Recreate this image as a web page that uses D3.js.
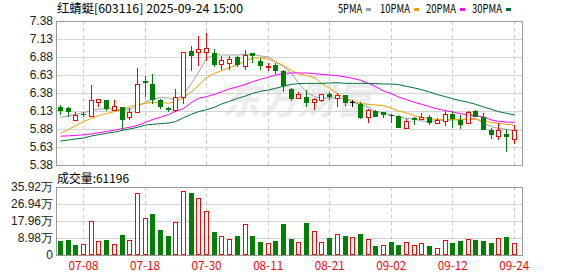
<!DOCTYPE html>
<html><head><meta charset="utf-8">
<script src="https://cdn.jsdelivr.net/npm/d3@7"></script>
<style>html,body{margin:0;padding:0;background:#fff;} svg{display:block}</style>
</head><body><svg id="c" width="578" height="276"></svg>
<script>
const dates = ["07-03","07-04","07-07","07-08","07-09","07-10","07-11","07-14","07-15","07-16",
"07-17","07-18","07-21","07-22","07-23","07-24","07-25","07-28","07-29","07-30",
"07-31","08-01","08-04","08-05","08-06","08-07","08-08","08-11","08-12","08-13",
"08-14","08-15","08-18","08-19","08-20","08-21","08-22","08-25","08-26","08-27",
"08-28","08-29","09-01","09-02","09-03","09-04","09-05","09-08","09-09","09-10",
"09-11","09-12","09-15","09-16","09-17","09-18","09-19","09-22","09-23","09-24"];
const opens = [6.18,6.17,6.00,6.09,6.06,6.26,6.28,6.15,6.18,6.05,
6.11,6.55,6.50,6.28,6.17,6.14,6.33,6.96,6.95,6.95,
6.94,6.78,6.80,6.88,6.76,6.93,6.82,6.75,6.77,6.69,
6.44,6.31,6.33,6.25,6.28,6.37,6.31,6.35,6.25,6.23,
6.04,6.13,6.11,6.07,6.06,5.89,6.03,6.02,6.04,5.97,
5.99,6.09,6.00,5.97,6.13,6.05,5.86,5.78,5.81,5.74];
const closes = [6.13,6.11,6.07,6.08,6.28,6.29,6.16,6.20,6.00,6.11,
6.51,6.52,6.28,6.18,6.14,6.32,6.95,6.90,6.99,7.00,
6.77,6.84,6.85,6.77,6.91,6.89,6.75,6.76,6.69,6.48,
6.29,6.37,6.24,6.29,6.36,6.33,6.35,6.24,6.25,6.03,
6.15,6.05,6.08,6.06,5.90,5.99,6.00,6.04,5.97,6.01,
6.09,6.02,5.93,6.12,6.04,5.86,5.79,5.87,5.77,5.87];
const highs = [6.22,6.19,6.12,6.12,6.49,6.30,6.28,6.28,6.19,6.17,
6.73,6.61,6.64,6.29,6.18,6.44,6.95,7.03,7.17,7.22,
6.99,6.89,6.89,6.90,6.98,6.94,6.86,6.80,6.79,6.70,
6.45,6.39,6.42,6.31,6.36,6.39,6.38,6.35,6.28,6.25,
6.16,6.14,6.12,6.09,6.07,6.02,6.04,6.10,6.07,6.03,
6.13,6.13,6.07,6.13,6.14,6.10,5.90,5.97,5.88,5.93];
const lows = [6.07,6.05,5.99,6.05,6.05,6.19,6.13,6.13,5.86,6.00,
6.11,6.32,6.23,6.16,6.11,6.11,6.23,6.68,6.75,6.82,
6.74,6.70,6.70,6.74,6.70,6.80,6.70,6.69,6.65,6.40,
6.27,6.29,6.18,6.15,6.25,6.28,6.19,6.20,6.18,6.02,
5.97,6.05,6.03,5.96,5.89,5.89,5.93,6.00,5.94,5.95,
5.92,5.89,5.88,5.95,6.04,5.86,5.74,5.73,5.56,5.67];
const prevClose = 6.16;
const volumes = [7.36,7.71,5.26,5.61,17.87,7.36,7.88,5.78,10.51,7.71,
32.4,19.27,21.55,13.14,9.99,17.17,33.64,32.59,29.79,22.95,
12.09,9.99,8.41,9.99,16.12,9.99,6.83,6.31,7.36,16.3,
8.41,6.66,16.82,12.61,6.66,8.94,11.04,9.99,9.46,11.04,
8.41,4.9,5.26,6.83,5.26,6.66,5.26,6.13,4.73,3.68,
7.88,6.31,7.36,8.41,7.88,7.36,6.31,8.94,9.46,6.12];
const ma5 = [6.042,6.061,6.084,6.107,6.135,6.158,6.158,6.158,6.144,6.148,
6.195,6.250,6.297,6.315,6.311,6.283,6.361,6.514,6.667,6.861,
6.908,6.908,6.908,6.908,6.917,6.917,6.894,6.880,6.815,6.746,
6.653,6.519,6.389,6.329,6.306,6.315,6.306,6.297,6.250,6.223,
6.181,6.121,6.107,6.074,6.051,6.028,6.019,5.991,5.982,6.000,
6.000,6.005,6.010,6.019,6.028,5.959,5.912,5.889,5.875,5.852];
const ma10 = [5.820,5.875,5.926,5.982,6.028,6.065,6.093,6.121,6.148,6.186,
6.213,6.237,6.250,6.246,6.237,6.260,6.315,6.398,6.482,6.593,
6.653,6.690,6.732,6.769,6.824,6.861,6.871,6.848,6.815,6.760,
6.690,6.648,6.621,6.593,6.514,6.445,6.371,6.306,6.269,6.237,
6.223,6.213,6.204,6.167,6.130,6.102,6.065,6.042,6.019,6.014,
6.014,6.014,6.014,6.014,6.014,5.991,5.972,5.959,5.945,5.935];
const ma20 = [5.780,5.785,5.790,5.800,5.812,5.828,5.845,5.865,5.885,5.905,
5.930,5.975,6.010,6.045,6.080,6.125,6.165,6.250,6.306,6.329,
6.361,6.398,6.436,6.468,6.500,6.537,6.570,6.602,6.630,6.653,
6.658,6.658,6.658,6.648,6.639,6.630,6.621,6.602,6.584,6.556,
6.514,6.468,6.408,6.371,6.324,6.287,6.250,6.223,6.190,6.158,
6.135,6.116,6.093,6.074,6.065,6.047,6.005,5.986,5.977,5.972];
const ma30 = [5.713,5.727,5.741,5.755,5.783,5.801,5.820,5.838,5.861,5.880,
5.903,5.935,5.945,5.954,5.963,5.982,6.037,6.084,6.121,6.148,
6.181,6.227,6.264,6.306,6.338,6.375,6.403,6.422,6.445,6.473,
6.500,6.510,6.514,6.514,6.514,6.519,6.523,6.514,6.514,6.514,
6.514,6.510,6.505,6.505,6.496,6.473,6.449,6.426,6.394,6.357,
6.329,6.301,6.273,6.250,6.223,6.186,6.153,6.121,6.098,6.074];
const priceTicks = [5.38,5.63,5.88,6.13,6.38,6.63,6.88,7.13,7.38];
const volTicks = [0,8.98,17.96,26.94,35.92];
const tickDates = ["07-08","07-18","07-30","08-11","08-21","09-02","09-12","09-24"];
const maNames = ["5PMA","10PMA","20PMA","30PMA"];
const maColors = ["#a0a0a0","#f0a000","#ff00ff","#006f3a"];
const titleText = "红蜻蜓[603116] 2025-09-24 15:00";
const volLabel = "成交量:61196";

const W=578,H=276;
const L=56,R=522,PT=21,PB=165,VT=186.7,VB=255;
const RED="#ff0000",GREEN="#008000";
const svg=d3.select("#c");
svg.append("rect").attr("width",W).attr("height",H).attr("fill","#fff");

const step=7.69;
const x=d3.scaleBand().domain(dates).range([60-step/2,60-step/2+dates.length*step]).padding(0);
const cx=d=>Math.round(x(d)+x.bandwidth()/2);
const y=d3.scaleLinear().domain([5.38,7.38]).range([PB,PT]);
const yv=d3.scaleLinear().domain([0,35.92]).range([VB,VT]);
const cjkFont='"Noto Sans CJK SC", sans-serif';
const numFont='"Liberation Sans", Arial, sans-serif';
const tl=s=>{let n=0;for(const ch of s){n+= ch.charCodeAt(0)>255?12:6;}return n;};

// watermark
svg.append("text").attr("x",222).attr("y",114).attr("font-family",cjkFont).attr("font-size",38)
  .attr("font-weight",700).attr("fill","#ececec").attr("font-style","italic").text("东方财富");

// grids
function grid(scale,ticks,top,bot){
  const g=svg.append("g");
  g.selectAll("line.h").data(ticks).join("line").attr("x1",L).attr("x2",R)
    .attr("y1",d=>Math.round(scale(d))+0.5).attr("y2",d=>Math.round(scale(d))+0.5)
    .attr("stroke","#d4d4d4").attr("stroke-width",1);
  g.selectAll("line.v").data(tickDates).join("line")
    .attr("x1",d=>cx(d)+0.5).attr("x2",d=>cx(d)+0.5).attr("y1",top).attr("y2",bot)
    .attr("stroke","#cccccc").attr("stroke-dasharray","4,3");
  svg.append("rect").attr("x",L+0.5).attr("y",Math.round(top)+0.5).attr("width",R-L)
    .attr("height",Math.round(bot)-Math.round(top)).attr("fill","none").attr("stroke","#999");
}
grid(y,priceTicks,PT,PB);
grid(yv,volTicks,VT,VB);

// axes
const ay=svg.append("g").attr("transform",`translate(${L},0)`)
  .call(d3.axisLeft(y).tickValues(priceTicks).tickSize(0).tickPadding(3).tickFormat(d3.format(".2f")));
const av=svg.append("g").attr("transform",`translate(${L},0)`)
  .call(d3.axisLeft(yv).tickValues(volTicks).tickSize(0).tickPadding(3).tickFormat(d=>d===0?"0":d.toFixed(2)+"万"));
[ay,av].forEach(a=>{a.select(".domain").remove();
  a.selectAll("text").attr("font-family",numFont).attr("font-size",12).attr("fill","#222");});
const ax=svg.append("g").attr("transform",`translate(0.5,${VB})`)
  .call(d3.axisBottom(x).tickValues(tickDates).tickSize(0).tickPadding(6));
ax.select(".domain").remove();
ax.selectAll("text").attr("font-family",cjkFont).attr("font-size",12).attr("fill",RED)
  .attr("textLength",30).attr("lengthAdjust","spacingAndGlyphs");

// MA lines
const mas=[ma5,ma10,ma20,ma30];
mas.forEach((arr,k)=>{
  svg.append("path").datum(arr).attr("fill","none").attr("stroke",maColors[k]).attr("stroke-width",1)
    .attr("d",d3.line().x((d,i)=>cx(dates[i])+0.5).y(d=>y(d)));
});

// candles
const cg=svg.append("g");
dates.forEach((d,i)=>{
  const o=opens[i],c=closes[i],h=highs[i],l=lows[i];
  const xi=cx(d);
  const col=c>o?RED:(c<o?GREEN:"#000");
  cg.append("line").attr("x1",xi+0.5).attr("x2",xi+0.5).attr("y1",Math.round(y(h))).attr("y2",Math.round(y(l)))
    .attr("stroke",col);
  const t=Math.round(y(Math.max(o,c))),b=Math.round(y(Math.min(o,c)));
  if(c>o){
    cg.append("rect").attr("x",xi-1.5).attr("y",t+0.5).attr("width",4).attr("height",Math.max(1,b-t))
      .attr("fill","#fff").attr("stroke",RED);
  }else if(c<o){
    cg.append("rect").attr("x",xi-2).attr("y",t).attr("width",5).attr("height",Math.max(1,b-t)).attr("fill",GREEN);
  }else{
    cg.append("line").attr("x1",xi-2).attr("x2",xi+3).attr("y1",t+0.5).attr("y2",t+0.5).attr("stroke","#000");
  }
});

// volume bars
const vg=svg.append("g");
dates.forEach((d,i)=>{
  const up=closes[i]>=(i===0?prevClose:closes[i-1]);
  const xi=cx(d);
  const t=Math.round(yv(volumes[i])),b=Math.round(yv(0));
  if(up){
    vg.append("rect").attr("x",xi-1.5).attr("y",t+0.5).attr("width",4).attr("height",b-t-1)
      .attr("fill","#fff").attr("stroke",RED);
  }else{
    vg.append("rect").attr("x",xi-2).attr("y",t).attr("width",5).attr("height",b-t).attr("fill",GREEN);
  }
});

// title & labels
svg.append("text").attr("x",57).attr("y",13).attr("font-family",cjkFont).attr("font-size",12).attr("fill","#000")
  .attr("textLength",tl(titleText)).attr("lengthAdjust","spacingAndGlyphs").text(titleText);
svg.append("text").attr("x",57).attr("y",183).attr("font-family",cjkFont).attr("font-size",12).attr("fill","#000")
  .attr("textLength",tl(volLabel)).attr("lengthAdjust","spacingAndGlyphs").text(volLabel);
const legX=[338,380,426,472];
maNames.forEach((n,k)=>{
  svg.append("text").attr("x",legX[k]).attr("y",13).attr("font-family",cjkFont).attr("font-size",12).attr("fill","#000")
    .attr("textLength",tl(n)).attr("lengthAdjust","spacingAndGlyphs").text(n);
  svg.append("rect").attr("x",legX[k]+tl(n)+4).attr("y",8).attr("width",5).attr("height",3).attr("fill",maColors[k]);
});
</script></body></html>
